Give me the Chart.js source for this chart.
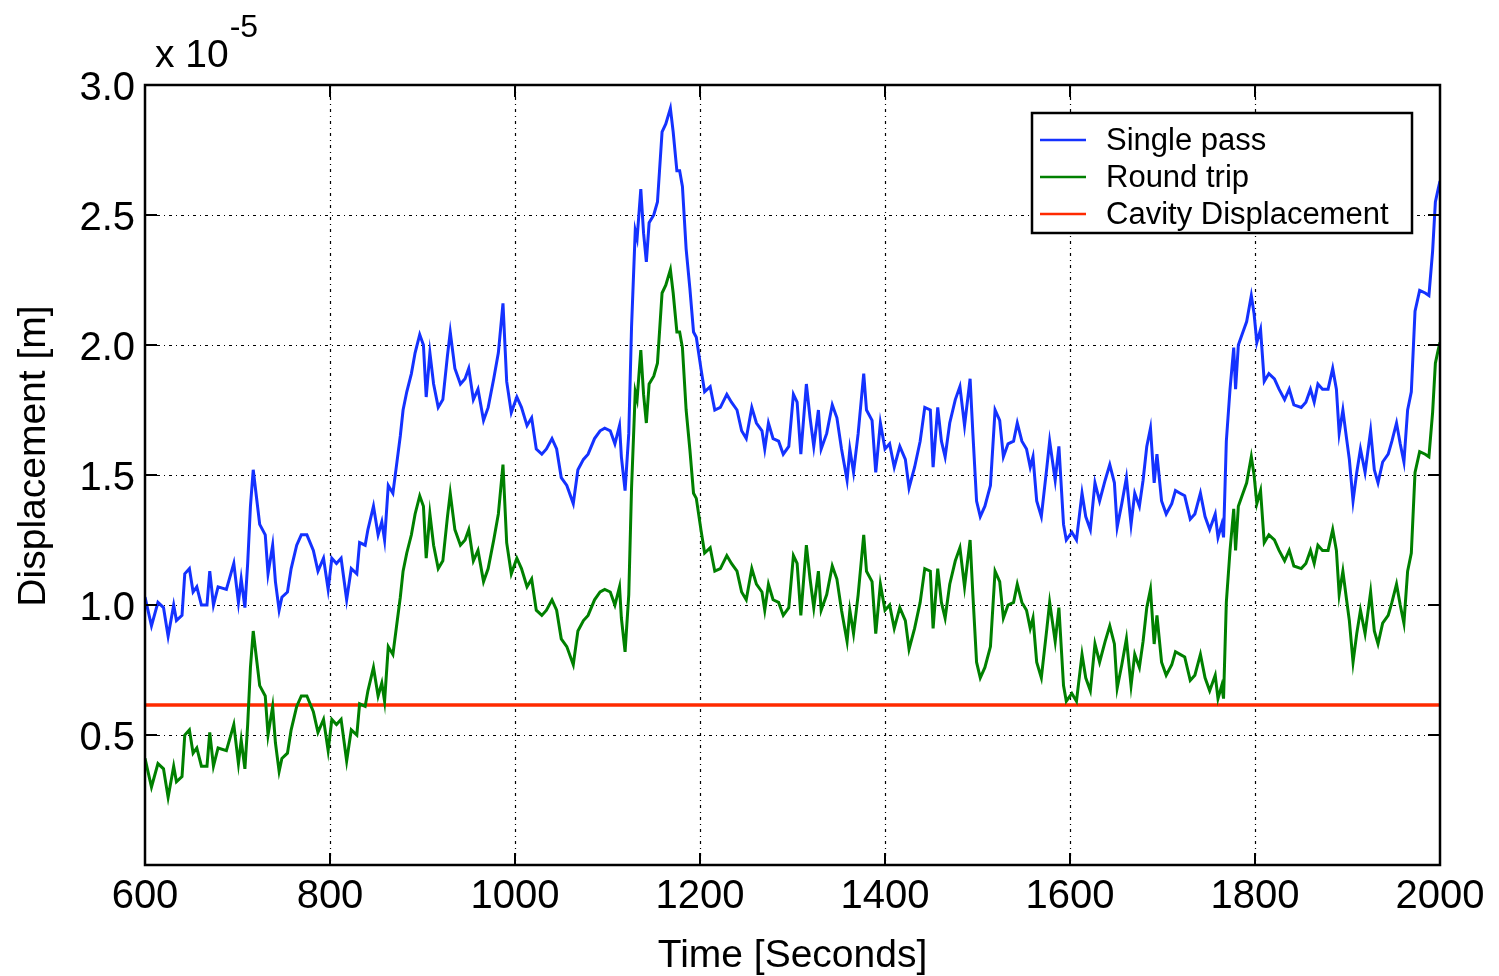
<!DOCTYPE html>
<html>
<head>
<meta charset="utf-8">
<script src="https://cdn.jsdelivr.net/npm/chart.js@4"></script>
<style>
html,body{margin:0;padding:0;background:#fff;}
#wrap{width:1499px;height:976px;position:relative;}
</style>
</head>
<body>
<div id="wrap"><canvas id="c"></canvas></div>
<script>
const times = [
600,607,614,620,625,631,634,640,643,648,
652,656,661,667,670,674,679,688,696,701,
704,708,711,714,717,721,724,730,733,738,
741,745,748,754,758,764,769,775,782,787,
793,798,802,807,812,818,823,829,832,838,
841,847,852,856,859,863,868,872,876,879,
883,888,892,897,901,904,908,912,917,922,
927,930,935,941,946,950,955,960,966,971,
977,982,987,991,996,1002,1007,1013,1018,1023,
1029,1034,1040,1045,1050,1056,1063,1068,1074,1079,
1086,1092,1097,1103,1108,1113,1115,1119,1123,1126,
1130,1132,1136,1139,1142,1145,1150,1154,1159,1163,
1168,1171,1175,1178,1181,1185,1189,1193,1196,1201,
1205,1211,1216,1222,1229,1234,1240,1245,1250,1256,
1261,1267,1270,1274,1279,1285,1290,1296,1301,1305,
1309,1315,1319,1323,1328,1331,1337,1343,1348,1353,
1359,1362,1366,1371,1377,1380,1386,1390,1395,1400,
1405,1410,1416,1422,1426,1432,1438,1443,1449,1452,
1457,1461,1465,1470,1476,1481,1486,1492,1495,1499,
1503,1508,1514,1519,1524,1528,1533,1539,1543,1548,
1553,1557,1560,1564,1569,1575,1578,1584,1588,1593,
1596,1602,1607,1613,1617,1622,1627,1632,1638,1643,
1648,1651,1656,1661,1666,1670,1675,1679,1683,1687,
1691,1694,1699,1704,1710,1714,1719,1724,1730,1735,
1741,1746,1751,1757,1760,1764,1766,1769,1773,1777,
1779,1782,1786,1791,1796,1799,1802,1806,1810,1815,
1821,1826,1832,1837,1842,1850,1855,1860,1864,1868,
1873,1879,1884,1888,1891,1895,1899,1902,1906,1910,
1914,1919,1925,1929,1933,1938,1944,1948,1953,1957,
1961,1965,1969,1973,1978,1984,1988,1992,1995,1998,
2000];

const singlePass = [
1.03,0.92,1.01,0.99,0.88,1.00,0.94,0.96,1.12,1.14,
1.05,1.07,1.00,1.00,1.13,1.00,1.07,1.06,1.16,1.01,
1.10,0.99,1.16,1.38,1.52,1.40,1.31,1.27,1.12,1.23,
1.09,0.98,1.03,1.05,1.14,1.23,1.27,1.27,1.21,1.13,
1.18,1.06,1.18,1.16,1.18,1.02,1.14,1.12,1.24,1.23,
1.29,1.38,1.27,1.32,1.25,1.46,1.43,1.54,1.65,1.75,
1.82,1.89,1.97,2.04,2.00,1.80,1.97,1.85,1.76,1.79,
1.96,2.05,1.91,1.85,1.87,1.91,1.79,1.83,1.71,1.76,
1.87,1.97,2.16,1.86,1.74,1.80,1.76,1.69,1.72,1.60,
1.58,1.60,1.64,1.60,1.49,1.46,1.39,1.52,1.56,1.58,
1.64,1.67,1.68,1.67,1.62,1.69,1.57,1.44,1.66,2.07,
2.44,2.41,2.60,2.43,2.32,2.47,2.50,2.55,2.82,2.85,
2.91,2.82,2.67,2.67,2.61,2.37,2.22,2.05,2.03,1.91,
1.82,1.84,1.75,1.76,1.81,1.78,1.75,1.67,1.64,1.76,
1.70,1.67,1.60,1.70,1.64,1.63,1.58,1.61,1.81,1.78,
1.58,1.85,1.72,1.61,1.75,1.60,1.66,1.77,1.72,1.60,
1.48,1.60,1.51,1.66,1.89,1.75,1.71,1.51,1.70,1.60,
1.62,1.53,1.61,1.56,1.45,1.53,1.63,1.76,1.75,1.53,
1.76,1.63,1.57,1.70,1.79,1.84,1.69,1.87,1.66,1.40,
1.34,1.38,1.46,1.75,1.71,1.57,1.62,1.63,1.70,1.63,
1.60,1.53,1.57,1.40,1.34,1.53,1.63,1.48,1.61,1.31,
1.25,1.28,1.25,1.43,1.34,1.29,1.47,1.40,1.48,1.54,
1.47,1.30,1.39,1.49,1.31,1.43,1.38,1.48,1.61,1.68,
1.47,1.58,1.40,1.35,1.39,1.44,1.43,1.42,1.33,1.35,
1.43,1.34,1.29,1.35,1.26,1.31,1.26,1.63,1.83,1.99,
1.83,2.00,2.04,2.09,2.19,2.12,2.01,2.06,1.86,1.89,
1.87,1.83,1.79,1.83,1.77,1.76,1.78,1.83,1.78,1.85,
1.83,1.83,1.91,1.83,1.66,1.75,1.64,1.56,1.40,1.51,
1.60,1.51,1.67,1.52,1.47,1.55,1.58,1.63,1.70,1.62,
1.55,1.75,1.82,2.13,2.21,2.20,2.19,2.36,2.55,2.60,
2.63];

const roundTrip = [
0.41,0.30,0.39,0.37,0.26,0.38,0.32,0.34,0.50,0.52,
0.43,0.45,0.38,0.38,0.51,0.38,0.45,0.44,0.54,0.39,
0.48,0.37,0.54,0.76,0.90,0.78,0.69,0.65,0.50,0.61,
0.47,0.36,0.41,0.43,0.52,0.61,0.65,0.65,0.59,0.51,
0.56,0.44,0.56,0.54,0.56,0.40,0.52,0.50,0.62,0.61,
0.67,0.76,0.65,0.70,0.63,0.84,0.81,0.92,1.03,1.13,
1.20,1.27,1.35,1.42,1.38,1.18,1.35,1.23,1.14,1.17,
1.34,1.43,1.29,1.23,1.25,1.29,1.17,1.21,1.09,1.14,
1.25,1.35,1.54,1.24,1.12,1.18,1.14,1.07,1.10,0.98,
0.96,0.98,1.02,0.98,0.87,0.84,0.77,0.90,0.94,0.96,
1.02,1.05,1.06,1.05,1.00,1.07,0.95,0.82,1.04,1.45,
1.82,1.79,1.98,1.81,1.70,1.85,1.88,1.93,2.20,2.23,
2.29,2.20,2.05,2.05,1.99,1.75,1.60,1.43,1.41,1.29,
1.20,1.22,1.13,1.14,1.19,1.16,1.13,1.05,1.02,1.14,
1.08,1.05,0.98,1.08,1.02,1.01,0.96,0.99,1.19,1.16,
0.96,1.23,1.10,0.99,1.13,0.98,1.04,1.15,1.10,0.98,
0.86,0.98,0.89,1.04,1.27,1.13,1.09,0.89,1.08,0.98,
1.00,0.91,0.99,0.94,0.83,0.91,1.01,1.14,1.13,0.91,
1.14,1.01,0.95,1.08,1.17,1.22,1.07,1.25,1.04,0.78,
0.72,0.76,0.84,1.13,1.09,0.95,1.00,1.01,1.08,1.01,
0.98,0.91,0.95,0.78,0.72,0.91,1.01,0.86,0.99,0.69,
0.63,0.66,0.63,0.81,0.72,0.67,0.85,0.78,0.86,0.92,
0.85,0.68,0.77,0.87,0.69,0.81,0.76,0.86,0.99,1.06,
0.85,0.96,0.78,0.73,0.77,0.82,0.81,0.80,0.71,0.73,
0.81,0.72,0.67,0.73,0.64,0.69,0.64,1.01,1.21,1.37,
1.21,1.38,1.42,1.47,1.57,1.50,1.39,1.44,1.24,1.27,
1.25,1.21,1.17,1.21,1.15,1.14,1.16,1.21,1.16,1.23,
1.21,1.21,1.29,1.21,1.04,1.13,1.02,0.94,0.78,0.89,
0.98,0.89,1.05,0.90,0.85,0.93,0.96,1.01,1.08,1.00,
0.93,1.13,1.20,1.51,1.59,1.58,1.57,1.74,1.93,1.98,
2.01];

const cavityTimes = [600, 2000];
const cavityDisplacement = [0.615, 0.615];

const xTickValues = [600, 800, 1000, 1200, 1400, 1600, 1800, 2000];
const yTickValues = [0, 0.5, 1.0, 1.5, 2.0, 2.5, 3.0];
const seriesLabels = ['Single pass', 'Round trip', 'Cavity Displacement'];
const xTitle = 'Time [Seconds]';
const yTitle = 'Displacement [m]';
const exponentBase = 'x 10';
const exponentPower = '-5';

const FONT = "'Liberation Sans', Arial, Helvetica, sans-serif";

function pts(xs, ys) { return xs.map((x, i) => ({ x: x, y: ys[i] })); }

const framePlugin = {
  id: 'matlabFrame',
  beforeDatasetsDraw(chart) {
    const { ctx, chartArea: a, scales } = chart;
    ctx.save();
    ctx.strokeStyle = '#000';
    ctx.lineWidth = 1.2;
    ctx.setLineDash([3, 4, 1, 4]);
    xTickValues.forEach(v => {
      if (v <= scales.x.min || v >= scales.x.max) return;
      const px = Math.round(scales.x.getPixelForValue(v)) + 0.5;
      ctx.beginPath(); ctx.moveTo(px, a.top); ctx.lineTo(px, a.bottom); ctx.stroke();
    });
    yTickValues.forEach(v => {
      if (v <= scales.y.min || v >= scales.y.max) return;
      const py = Math.round(scales.y.getPixelForValue(v)) + 0.5;
      ctx.beginPath(); ctx.moveTo(a.left, py); ctx.lineTo(a.right, py); ctx.stroke();
    });
    ctx.restore();
  },
  afterDraw(chart) {
    const { ctx, chartArea: a, scales } = chart;
    ctx.save();
    ctx.strokeStyle = '#000';
    ctx.setLineDash([]);
    ctx.lineWidth = 2;
    const tl = 12;
    xTickValues.forEach(v => {
      const px = scales.x.getPixelForValue(v);
      ctx.beginPath(); ctx.moveTo(px, a.bottom); ctx.lineTo(px, a.bottom - tl); ctx.stroke();
      ctx.beginPath(); ctx.moveTo(px, a.top); ctx.lineTo(px, a.top + tl); ctx.stroke();
    });
    yTickValues.forEach(v => {
      const py = scales.y.getPixelForValue(v);
      ctx.beginPath(); ctx.moveTo(a.left, py); ctx.lineTo(a.left + tl, py); ctx.stroke();
      ctx.beginPath(); ctx.moveTo(a.right, py); ctx.lineTo(a.right - tl, py); ctx.stroke();
    });
    ctx.lineWidth = 2.5;
    ctx.strokeRect(a.left, a.top, a.right - a.left, a.bottom - a.top);

    // y-axis title
    ctx.fillStyle = '#000';
    ctx.font = '39px ' + FONT;
    ctx.textAlign = 'center';
    ctx.textBaseline = 'middle';
    ctx.save();
    ctx.translate(34, 456);
    ctx.rotate(-Math.PI / 2);
    ctx.fillText(yTitle, 0, 0);
    ctx.restore();

    // exponent label
    ctx.textBaseline = 'alphabetic';
    ctx.textAlign = 'left';
    ctx.font = '39px ' + FONT;
    ctx.fillText(exponentBase, a.left + 10, 67);
    const w = ctx.measureText(exponentBase).width;
    ctx.font = '32px ' + FONT;
    ctx.fillText(exponentPower, a.left + 10 + w + 1, 37);

    // legend
    const lx = 1032, ly = 113, lw = 380, lh = 120;
    ctx.fillStyle = '#fff';
    ctx.fillRect(lx, ly, lw, lh);
    ctx.lineWidth = 2.5;
    ctx.strokeStyle = '#000';
    ctx.strokeRect(lx, ly, lw, lh);
    ctx.font = '31px ' + FONT;
    ctx.textBaseline = 'middle';
    chart.data.datasets.forEach((ds, i) => {
      const cy = ly + 27 + i * 37;
      ctx.strokeStyle = ds.borderColor;
      ctx.lineWidth = 2.5;
      ctx.beginPath(); ctx.moveTo(lx + 8, cy); ctx.lineTo(lx + 54, cy); ctx.stroke();
      ctx.fillStyle = '#000';
      ctx.fillText(ds.label, lx + 74, cy + 1);
    });
    ctx.restore();
  }
};

new Chart(document.getElementById('c'), {
  type: 'line',
  data: {
    datasets: [
      { label: seriesLabels[0], data: pts(times, singlePass), borderColor: '#1432ff', borderWidth: 3, pointRadius: 0, tension: 0, fill: false },
      { label: seriesLabels[1], data: pts(times, roundTrip), borderColor: '#008000', borderWidth: 3, pointRadius: 0, tension: 0, fill: false },
      { label: seriesLabels[2], data: pts(cavityTimes, cavityDisplacement), borderColor: '#ff2a00', borderWidth: 3.5, pointRadius: 0, tension: 0, fill: false }
    ]
  },
  options: {
    responsive: true,
    maintainAspectRatio: false,
    animation: false,
    events: [],
    layout: { padding: { left: 0, right: 59, top: 85, bottom: 0 } },
    plugins: { legend: { display: false }, tooltip: { enabled: false } },
    scales: {
      x: {
        type: 'linear', min: 600, max: 2000,
        afterBuildTicks(s) { s.ticks = xTickValues.map(v => ({ value: v })); },
        afterFit(s) { s.height = 111; },
        grid: { display: false, drawTicks: false },
        border: { display: false },
        ticks: { color: '#000', font: { family: FONT, size: 40 }, padding: 8, maxRotation: 0, autoSkip: false,
          callback: v => String(v) },
        title: { display: true, text: xTitle, color: '#000', font: { family: FONT, size: 39, lineHeight: 1 }, padding: { top: 0, bottom: 0 } }
      },
      y: {
        type: 'linear', min: 0, max: 3,
        afterBuildTicks(s) { s.ticks = yTickValues.map(v => ({ value: v })); },
        afterFit(s) { s.width = 145; },
        grid: { display: false, drawTicks: false },
        border: { display: false },
        ticks: { color: '#000', font: { family: FONT, size: 40 }, padding: 10, autoSkip: false, labelOffset: 4,
          callback: v => (v === 0 ? '' : v.toFixed(1)) },
        title: { display: false }
      }
    }
  },
  plugins: [framePlugin]
});
</script>
</body>
</html>
